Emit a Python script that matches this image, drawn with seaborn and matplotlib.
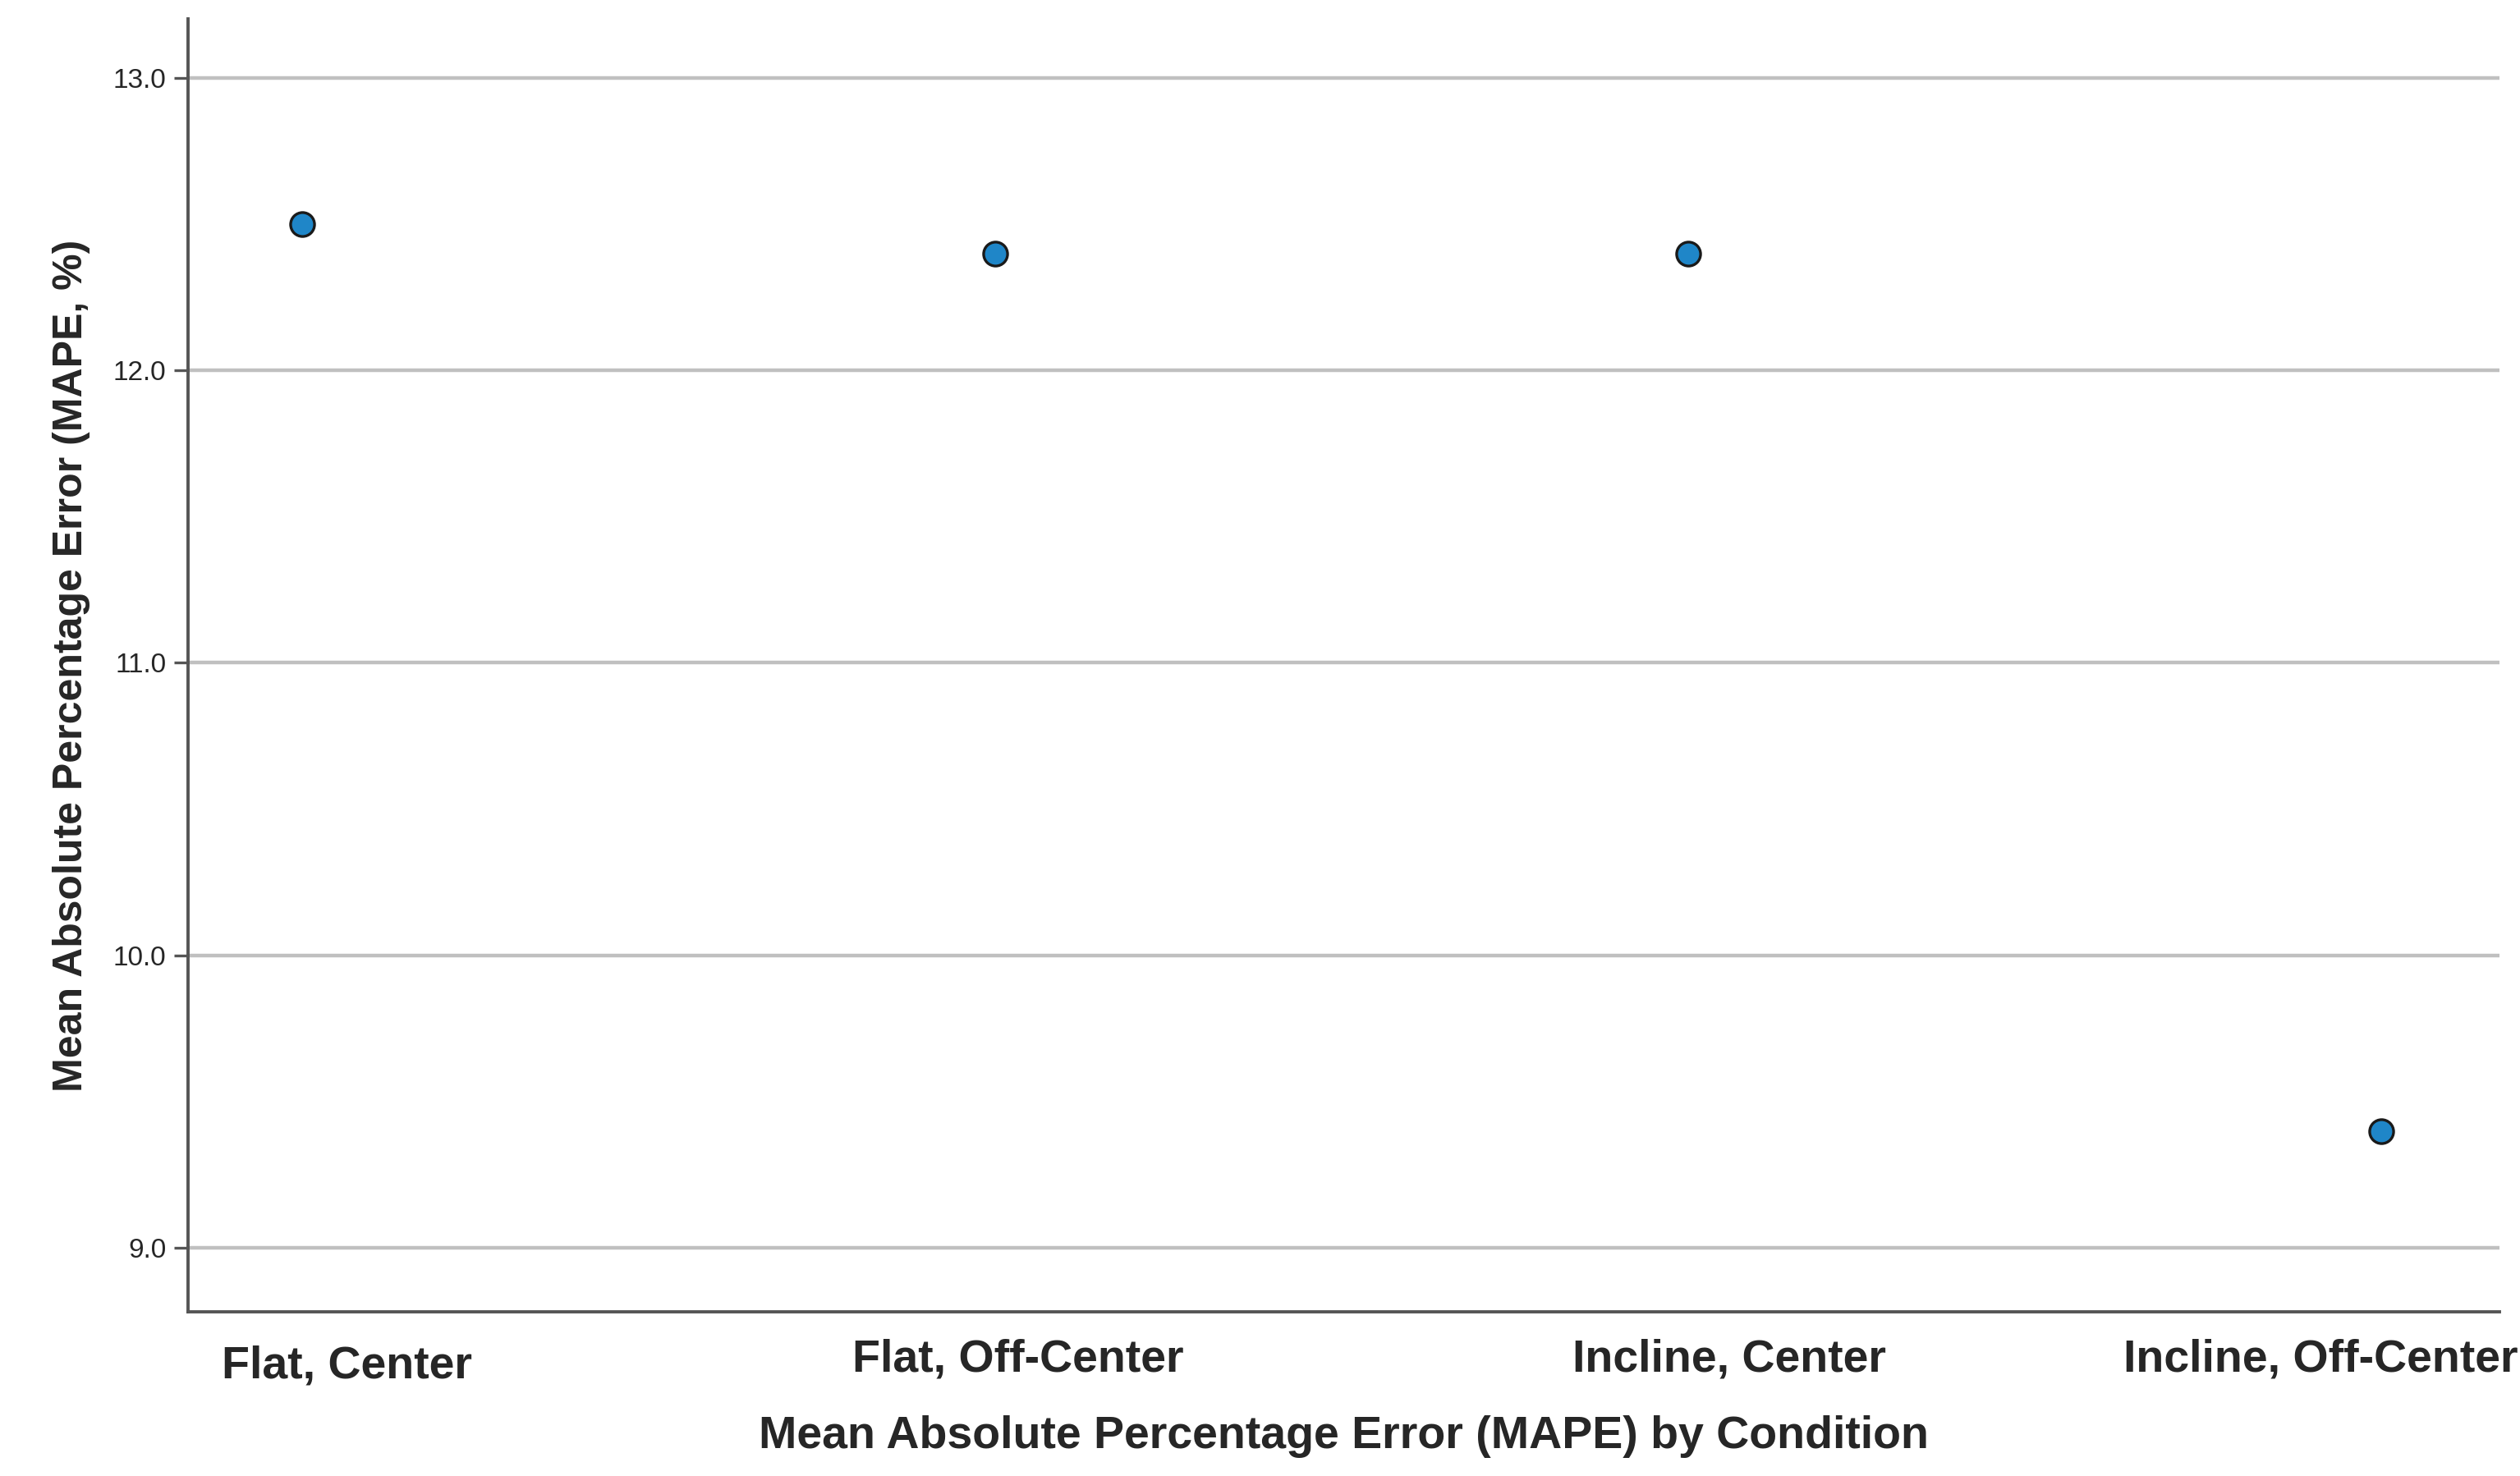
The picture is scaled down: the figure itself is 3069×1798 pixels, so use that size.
import matplotlib
matplotlib.use("Agg")
import matplotlib.pyplot as plt
import matplotlib.transforms as mtransforms
import seaborn as sns
import pandas as pd

conditions = ["Flat, Center", "Flat, Off-Center", "Incline, Center", "Incline, Off-Center"]
mape = [12.5, 12.4, 12.4, 9.4]
yticks = [9.0, 10.0, 11.0, 12.0, 13.0]

df = pd.DataFrame({"pos": range(len(conditions)), "mape": mape})

sns.set_style("white")
plt.rcParams["font.family"] = ["Liberation Sans", "DejaVu Sans"]

fig = plt.figure(figsize=(15.345, 8.99), dpi=200)
ax = fig.add_axes([117 / 1568, 1 - 817 / 919, (1555 - 117) / 1568, (817 - 12) / 919])

for y in yticks:
    ax.axhline(y, color="#c0c0c0", linewidth=1.6, zorder=0)

sns.scatterplot(data=df, x="pos", y="mape", ax=ax, s=110, color="#1f86c8",
                edgecolor="#1a1a1a", linewidth=1.2, zorder=3)

ax.set_xlim(-0.165, 3.17)
ax.set_ylim(8.78, 13.2)
ax.set_yticks(yticks)
ax.set_yticklabels([f"{v:.1f}" for v in yticks], fontsize=12)
ax.set_xticks(range(len(conditions)))
ax.set_xticklabels(conditions, fontsize=20, fontweight="bold")
ax.tick_params(axis="x", length=0, pad=10)
ax.tick_params(axis="y", length=6, color="#555555", width=1.2, left=True)

# shift tick labels horizontally/vertically to match the reference layout
shifts = [(0.27, -0.04), (0.14, 0.0), (0.25, 0.0), (-0.37, 0.0)]
for lab, (dx, dy) in zip(ax.get_xticklabels(), shifts):
    lab.set_transform(lab.get_transform() + mtransforms.ScaledTranslation(dx, dy - 0.02, fig.dpi_scale_trans))

ax.set_xlabel("Mean Absolute Percentage Error (MAPE) by Condition", fontsize=20, fontweight="bold", labelpad=12)
ax.set_ylabel("Mean Absolute Percentage Error (MAPE, %)", fontsize=18, fontweight="bold", labelpad=10)

for side in ["top", "right"]:
    ax.spines[side].set_visible(False)
for side in ["left", "bottom"]:
    ax.spines[side].set_color("#555555")
    ax.spines[side].set_linewidth(1.4)

fig.savefig("out.png", dpi=200)
